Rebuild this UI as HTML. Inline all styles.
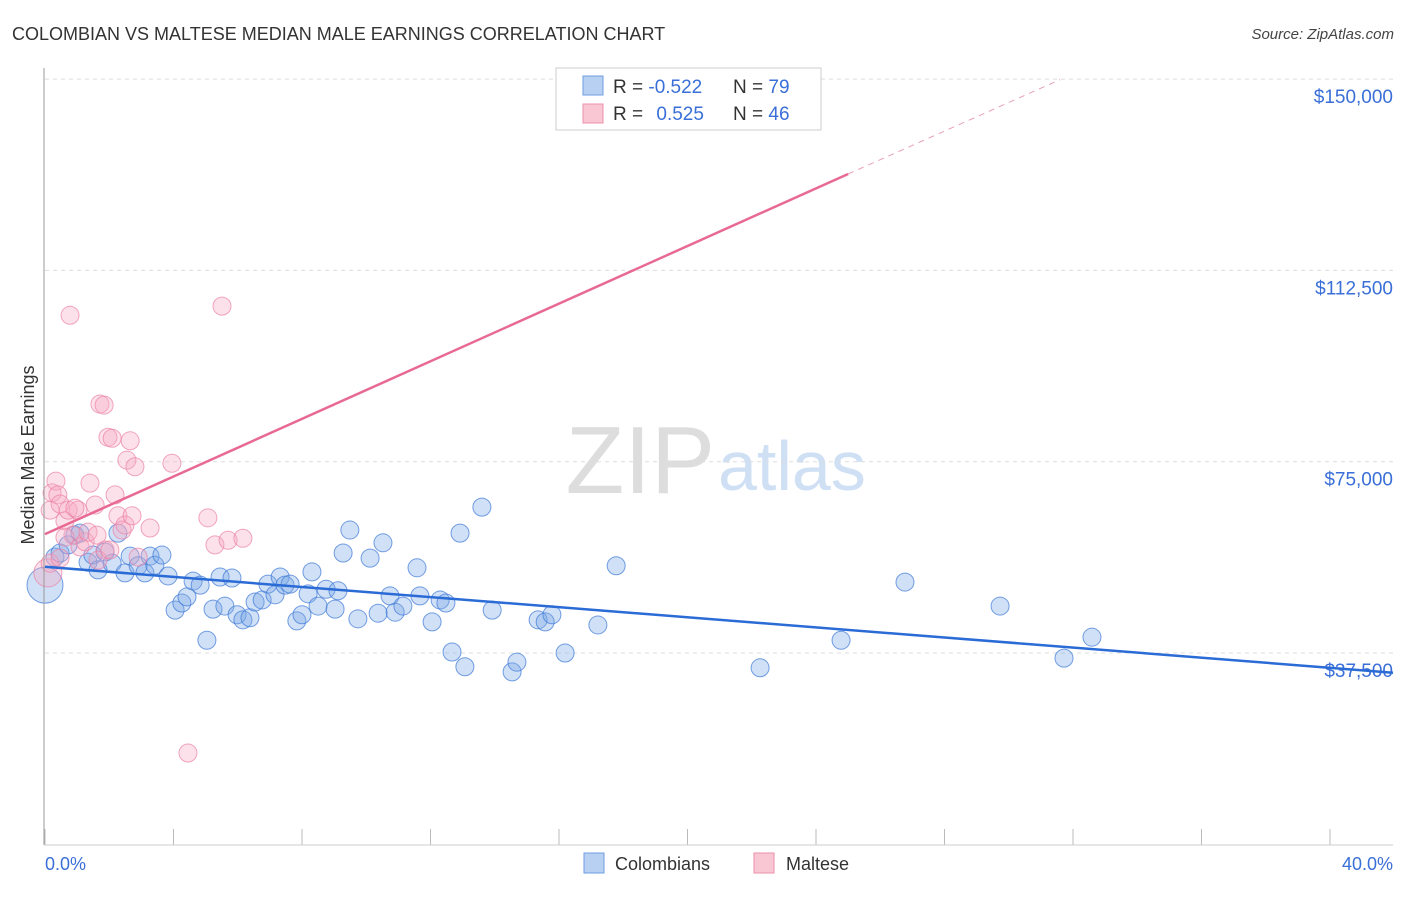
<!DOCTYPE html>
<html><head><meta charset="utf-8"><style>
body{margin:0;background:#fff;font-family:"Liberation Sans",sans-serif}
svg text{font-family:"Liberation Sans",sans-serif}
</style></head><body>
<svg id="chart" width="1406" height="892" xmlns="http://www.w3.org/2000/svg">
<text x="12" y="40" font-size="18" fill="#333">COLOMBIAN VS MALTESE MEDIAN MALE EARNINGS CORRELATION CHART</text>
<text x="1394" y="39" font-size="15" fill="#444" font-style="italic" text-anchor="end">Source: ZipAtlas.com</text>
<text x="715" y="493" font-size="96" fill="#ddd" font-family="Liberation Serif,serif" text-anchor="end">ZIP</text>
<text x="718" y="490" font-size="70" fill="#cfe0f5">atlas</text>
<g id="grid"></g><g id="pts"></g><g id="lines"></g>
<line x1="44" y1="68" x2="44" y2="845" stroke="#999"/>
<line x1="44" y1="845" x2="1393" y2="845" stroke="#ccc"/>
<text transform="translate(34,455) rotate(-90)" font-size="18" fill="#333" text-anchor="middle">Median Male Earnings</text>
<text x="45" y="870" font-size="18" fill="#3a6fd8">0.0%</text>
<text x="1393" y="870" font-size="18" fill="#3a6fd8" text-anchor="end">40.0%</text>
<g>
<rect x="556" y="68" width="265" height="62" fill="#fff" stroke="#ccc"/>
<rect x="583" y="76" width="20" height="19" fill="#b8d1f3" stroke="#6f9de3"/>
<rect x="583" y="104" width="20" height="19" fill="#f9c6d4" stroke="#ec92ad"/>
<text x="613" y="93" font-size="19" fill="#333">R = <tspan fill="#3a6fd8">-0.522</tspan></text>
<text x="733" y="93" font-size="19" fill="#333">N = <tspan fill="#3a6fd8">79</tspan></text>
<text x="613" y="120" font-size="19" fill="#333">R = <tspan fill="#3a6fd8" dx="8">0.525</tspan></text>
<text x="733" y="120" font-size="19" fill="#333">N = <tspan fill="#3a6fd8">46</tspan></text>
</g>
<g>
<rect x="584" y="853" width="20" height="20" fill="#b8d1f3" stroke="#6f9de3"/>
<text x="615" y="870" font-size="18" fill="#333">Colombians</text>
<rect x="754" y="853" width="20" height="20" fill="#f9c6d4" stroke="#ec92ad"/>
<text x="786" y="870" font-size="18" fill="#333">Maltese</text>
</g>
</svg>
<script>
const yTicks=[37500,75000,112500,150000];
const yTickLabels=["$37,500","$75,000","$112,500","$150,000"];
const xTicks=[0,4,8,12,16,20,24,28,32,36,40];
const blueX=[0.31,0.47,0.72,0.93,1.09,1.34,1.49,1.65,1.87,2.09,2.27,2.49,2.65,2.90,3.11,3.27,3.42,3.64,3.83,4.05,4.26,4.42,4.61,4.83,5.04,5.23,5.45,5.60,5.82,5.98,6.16,6.38,6.54,6.76,6.94,7.16,7.32,7.47,7.63,7.84,8.00,8.19,8.31,8.50,8.75,9.03,9.12,9.28,9.49,9.74,10.12,10.37,10.52,10.74,10.90,11.14,11.58,11.67,12.05,12.30,12.48,12.67,12.92,13.07,13.60,13.92,14.54,14.69,15.35,15.57,15.78,16.19,17.21,17.78,22.26,24.78,26.77,29.73,31.72,32.59,0];
const blueY=[56.3,57.1,58.7,60.6,61.0,55.3,56.7,53.8,57.3,55.1,61.0,53.2,56.5,54.6,53.2,56.5,54.7,56.7,52.6,45.9,47.3,48.5,51.6,50.8,40.0,46.1,52.4,46.7,52.2,45.0,44.0,44.4,47.5,47.9,51.0,48.9,52.4,50.8,51.0,43.8,45.0,49.1,53.4,46.7,50.0,46.1,49.7,57.1,61.6,44.2,56.1,45.3,59.1,48.7,45.5,46.7,54.2,48.7,43.6,47.9,47.3,37.7,61.0,34.8,66.1,45.9,33.8,35.7,44.0,43.6,45.0,37.5,43.0,54.6,34.6,40.0,51.4,46.7,36.5,40.6,50.8];
const blueR=blueX.map((_,i)=>i===blueX.length-1?18:9);
const pinkX=[0.09,0.16,0.22,0.34,0.40,0.47,0.62,0.72,0.78,0.87,1.03,1.09,1.25,1.34,1.40,1.56,1.71,1.84,1.87,1.96,2.09,2.18,2.27,2.40,2.49,2.55,2.65,2.71,2.80,2.90,3.27,3.95,4.45,5.07,5.29,5.51,5.70,6.16,0.16,0.47,1.65,0.62,2.02,0.93,1.62,21.17];
const pinkY=[53.2,65.5,68.9,71.2,68.5,66.7,63.4,65.5,103.7,60.6,65.5,58.3,59.3,61.2,70.8,66.5,86.3,86.1,57.7,79.8,79.6,68.5,64.4,61.6,62.6,75.3,79.1,64.4,74.0,56.3,62.0,74.7,17.9,64.0,58.7,105.5,59.6,60.0,55.1,56.1,55.7,60.2,57.7,65.9,60.6,143];
const pinkR=pinkX.map((_,i)=>i===0?14:9);
const blueLine=[54.4,34.6];
const pinkLine=[60.8,131.4,149.9];
const pinkLineX=[0,25.0,31.6];
const NS="http://www.w3.org/2000/svg";
const X=p=>45+p/40*1285;
const Y=v=>653-(v-37500)/37500*191.3;
function mk(t,a,parent){const e=document.createElementNS(NS,t);for(const k in a)e.setAttribute(k,a[k]);document.getElementById(parent).appendChild(e);return e;}
yTicks.forEach((v,i)=>{
 const l=mk('line',{x1:45,x2:1393,y1:Y(v),y2:Y(v),stroke:'#ddd','stroke-dasharray':'4,4'},'grid');
 
 
 const t=mk('text',{x:1393,y:Y(v)+24,'font-size':19,fill:'#3a6fd8','text-anchor':'end'},'grid');
 t.textContent=yTickLabels[i];
 
 
});
xTicks.forEach(p=>{
 const l=mk('line',{x1:X(p),x2:X(p),y1:829,y2:845,stroke:'#bbb'},'grid');
 
 
});
blueX.forEach((p,i)=>{
 const c=mk('circle',{cx:X(p),cy:Y(blueY[i]*1000),r:blueR[i],fill:'rgba(120,165,230,0.35)',stroke:'rgba(60,120,215,0.7)'},'pts');
 
 
});
pinkX.forEach((p,i)=>{
 const c=mk('circle',{cx:X(p),cy:Y(pinkY[i]*1000),r:pinkR[i],fill:'rgba(245,170,195,0.35)',stroke:'rgba(235,130,165,0.7)'},'pts');
 
 
});
const bl=mk('line',{x1:X(0),y1:Y(blueLine[0]*1000),x2:1393,y2:Y((blueLine[0]+(blueLine[1]-blueLine[0])*(1393-45)/1285)*1000),stroke:'#2a6bd6','stroke-width':2.5},'lines');


const pl=mk('line',{x1:X(pinkLineX[0]),y1:Y(pinkLine[0]*1000),x2:X(pinkLineX[1]),y2:Y(pinkLine[1]*1000),stroke:'#e86a93','stroke-width':2.5},'lines');


const pd=mk('line',{x1:X(pinkLineX[1]),y1:Y(pinkLine[1]*1000),x2:X(pinkLineX[2]),y2:Y(pinkLine[2]*1000),stroke:'#e8a0b8','stroke-width':1,'stroke-dasharray':'6,5'},'lines');


</script>
</body></html>
